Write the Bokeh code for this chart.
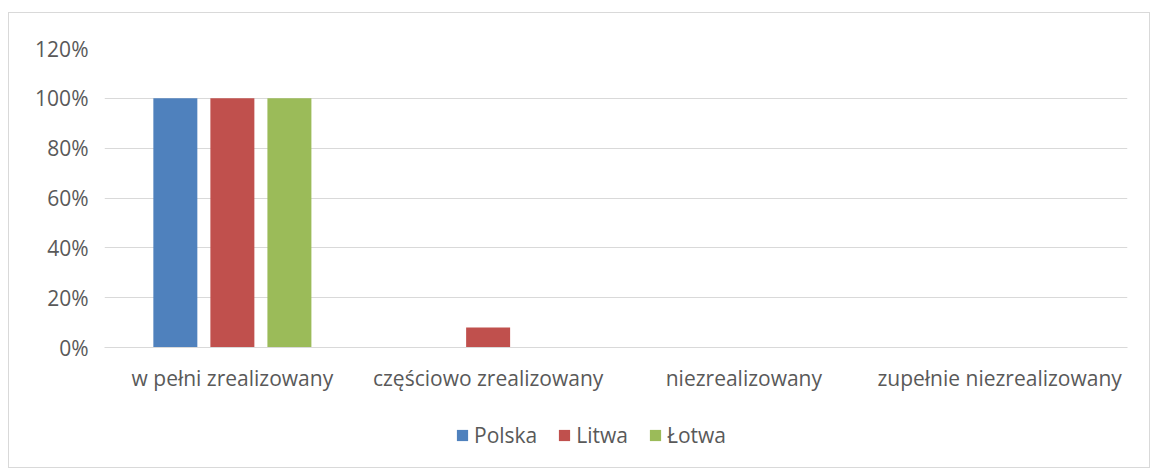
import numpy as np
from bokeh.plotting import figure
from bokeh.layouts import column
from bokeh.models import (FactorRange, Range1d, NumeralTickFormatter, Legend, LegendItem,
                          ColumnDataSource, FixedTicker)
from bokeh.transform import dodge
from bokeh.embed import file_html
from bokeh.resources import INLINE

categories = ["w pełni zrealizowany", "częściowo zrealizowany", "niezrealizowany", "zupełnie niezrealizowany"]
series_names = ["Polska", "Litwa", "Łotwa"]
polska = [1.0, 0.0, 0.0, 0.0]
litwa = [1.0, 0.08, 0.0, 0.0]
lotwa = [1.0, 0.0, 0.0, 0.0]
colors = ["#4F81BD", "#C0504D", "#9BBB59"]
y_ticks = [0.0, 0.2, 0.4, 0.6, 0.8, 1.0, 1.2]

FONT = "Open Sans"
FSIZE = "21px"
TEXT_COLOR = "#595959"
GRID_COLOR = "#d9d9d9"

source = ColumnDataSource(dict(cat=categories, Polska=polska, Litwa=litwa, Lotwa=lotwa))
fields = ["Polska", "Litwa", "Lotwa"]
offsets = [-0.223, 0.0, 0.223]

p = figure(x_range=FactorRange(*categories, range_padding=0), y_range=Range1d(0, 1.2),
           frame_width=1023, frame_height=299, output_backend="svg", toolbar_location=None,
           min_border_left=95, min_border_right=22, min_border_top=35, min_border_bottom=60)

for f, off, c in zip(fields, offsets, colors):
    p.vbar(x=dodge("cat", off, range=p.x_range), top=f, width=0.172, source=source,
           fill_color=c, line_color=None)

p.outline_line_color = None
p.xgrid.grid_line_color = None
p.ygrid.grid_line_color = GRID_COLOR
p.ygrid.grid_line_width = 1
p.yaxis.ticker = FixedTicker(ticks=y_ticks)
p.yaxis.formatter = NumeralTickFormatter(format="0%")
p.yaxis.axis_line_color = None
p.yaxis.major_tick_line_color = None
p.yaxis.minor_tick_line_color = None
p.yaxis.major_tick_out = 0
p.yaxis.major_label_standoff = 16
p.xaxis.axis_line_color = GRID_COLOR
p.xaxis.major_tick_line_color = None
p.xaxis.major_tick_out = 0
p.xaxis.major_tick_in = 0
p.xaxis.major_label_standoff = 16
for ax in (p.xaxis, p.yaxis):
    ax.major_label_text_font = FONT
    ax.major_label_text_font_size = FSIZE
    ax.major_label_text_color = TEXT_COLOR

# legend strip below the chart: swatch renderers hold a single NaN row (nothing drawn)
lg = figure(width=1140, height=60, x_range=Range1d(0, 1), y_range=Range1d(0, 1),
            output_backend="svg", toolbar_location=None, min_border=0)
lg.axis.visible = False
lg.grid.grid_line_color = None
lg.outline_line_color = None
swatch_src = ColumnDataSource(dict(x=np.array([np.nan]), top=np.array([np.nan])))
leg_renderers = [lg.vbar(x="x", top="top", width=0.1, source=swatch_src, fill_color=c, line_color=None)
                 for c in colors]
legend = Legend(items=[LegendItem(label=n, renderers=[r]) for n, r in zip(series_names, leg_renderers)],
                orientation="horizontal", location=(351, 18))
legend.label_text_font = FONT
legend.label_text_font_size = FSIZE
legend.label_text_color = TEXT_COLOR
legend.glyph_width = 14
legend.glyph_height = 14
legend.label_standoff = 5
legend.spacing = 20
legend.border_line_color = None
legend.background_fill_alpha = 0
legend.margin = 0
legend.padding = 0
lg.add_layout(legend, "center")

layout = column(p, lg, spacing=0)
layout.margin = (12, 0, 0, 8)
layout.styles = {"border": "1px solid #d9d9d9"}

open("out.html", "w").write(file_html(layout, INLINE))
